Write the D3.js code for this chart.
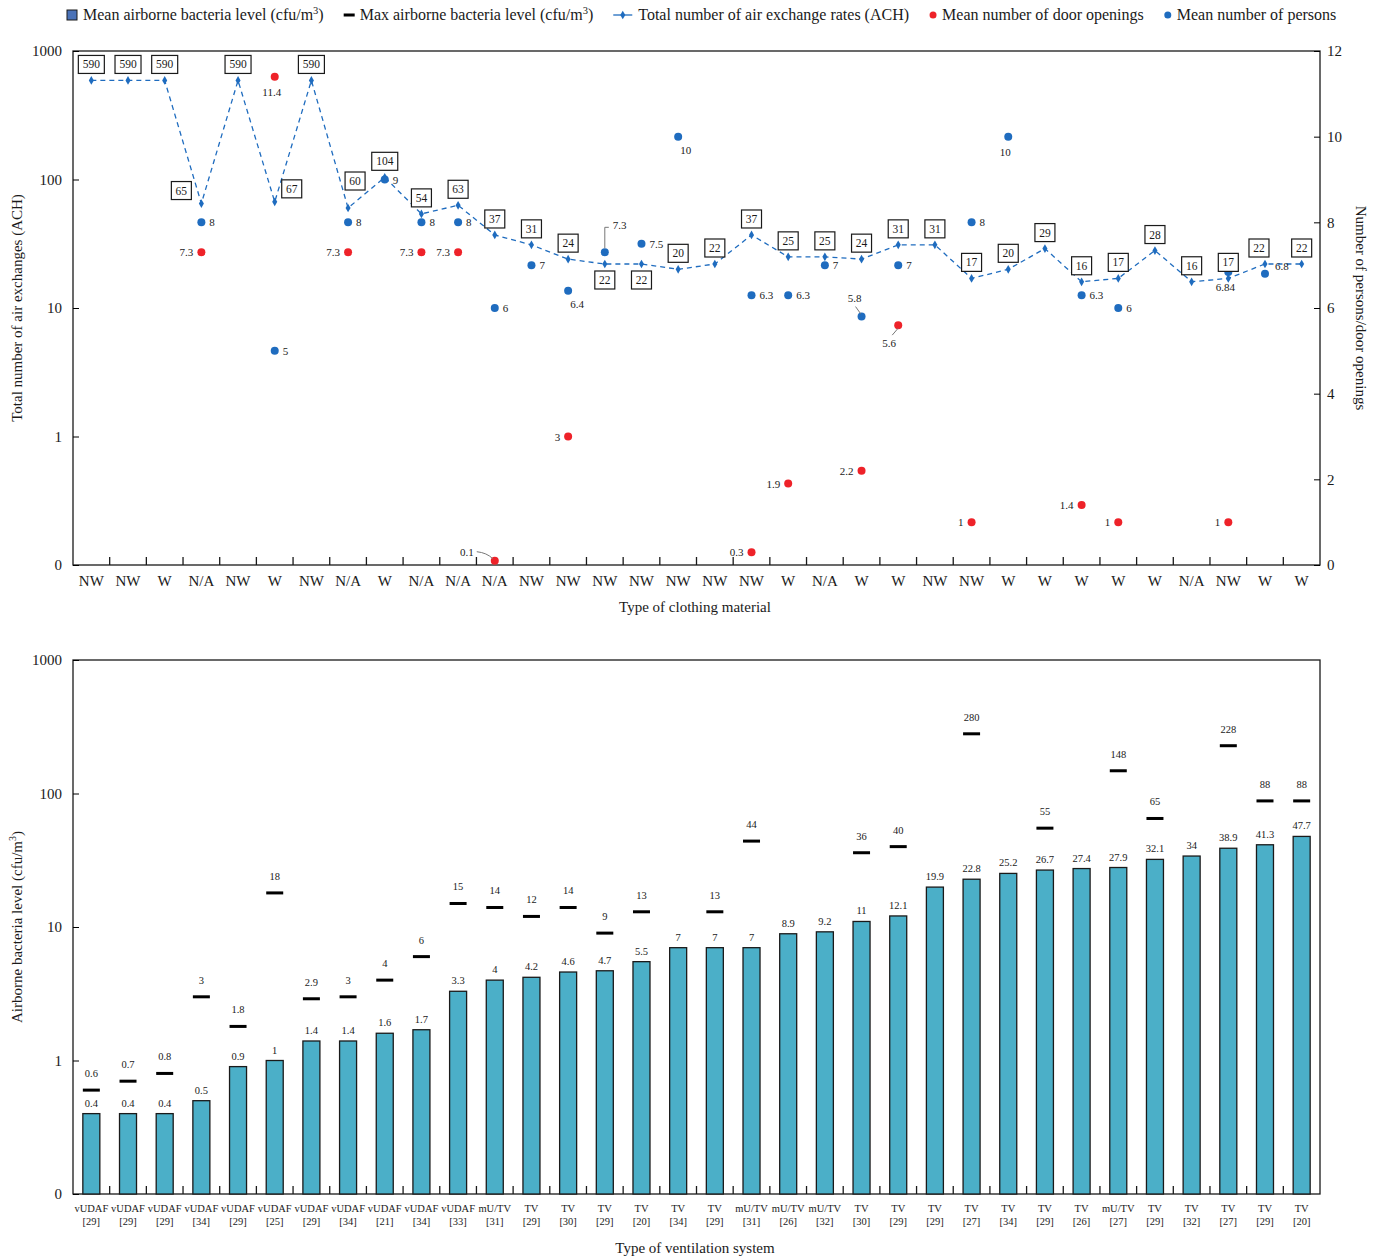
<!DOCTYPE html>
<html>
<head>
<meta charset="utf-8">
<script src="https://cdn.jsdelivr.net/npm/d3@7"></script>
<style>
body { margin: 0; background: #fff; }
svg text { font-family: "Liberation Serif", "Times New Roman", serif; fill: #1a1a1a; }
</style>
</head>
<body>
<div class="canvas"></div>
<script>
/* ----------- DATA ----------- */
// top panel: one entry per study
const clothing = ['NW','NW','W','N/A','NW','W','NW','N/A','W','N/A','N/A','N/A','NW','NW','NW','NW','NW','NW',
    'NW','W','N/A','W','W','NW','NW','W','W','W','W','W','N/A','NW','W','W'];
const ach = [590,590,590,65,590,67,590,60,104,54,63,37,31,24,22,22,20,22,37,25,25,24,31,31,17,20,29,16,17,28,16,17,22,22];
const persons = [null,null,null,8,null,5,null,8,9,8,8,6,7,6.4,7.3,7.5,10,null,6.3,6.3,7,5.8,7,null,8,10,null,6.3,6,null,null,6.84,6.8,null];
const doors = [null,null,null,7.3,null,11.4,null,7.3,null,7.3,7.3,0.1,null,3,null,null,null,null,0.3,1.9,null,2.2,5.6,null,1,null,null,1.4,1,null,null,1,null,null];

// bottom panel
const ventType = ['vUDAF','vUDAF','vUDAF','vUDAF','vUDAF','vUDAF','vUDAF','vUDAF','vUDAF','vUDAF','vUDAF','mU/TV',
    'TV','TV','TV','TV','TV','TV','mU/TV','mU/TV','mU/TV','TV','TV','TV','TV','TV','TV','TV','mU/TV','TV','TV','TV','TV','TV'];
const ventRef = [29,29,29,34,29,25,29,34,21,34,33,31,29,30,29,20,34,29,31,26,32,30,29,29,27,34,29,26,27,29,32,27,29,20];
const meanBact = [0.4,0.4,0.4,0.5,0.9,1,1.4,1.4,1.6,1.7,3.3,4,4.2,4.6,4.7,5.5,7,7,7,8.9,9.2,11,12.1,19.9,22.8,25.2,26.7,27.4,27.9,32.1,34,38.9,41.3,47.7];
const maxBact = [0.6,0.7,0.8,3,1.8,18,2.9,3,4,6,15,14,12,14,9,13,null,13,44,null,null,36,40,null,280,null,55,null,148,65,null,228,88,88];

const logTicks = [0.1, 1, 10, 100, 1000];
const logTickLabels = ['0', '1', '10', '100', '1000'];
const rightTicks = [0, 2, 4, 6, 8, 10, 12];

/* ----------- LABEL PLACEMENT (layout only) ----------- */
// shift of the ACH boxes from default position (centred, 16px above the point)
const boxShift = {3: [-20, 3], 5: [17, 3], 7: [7, -11], 14: [0, 32], 15: [0, 32], 32: [-6, 0]};
const personPlace = {13: 'br', 14: 'leaderUp', 16: 'br', 21: 'leaderUL', 25: 'b', 31: 'b', 32: 'ur'};
const doorPlace = {5: 'b', 11: 'leaderL', 22: 'leaderDL'};

/* ----------- CONTAINER ----------- */
const W = 1383, H = 1258;
const svg = d3.select('.canvas').append('svg')
    .attr('width', W).attr('height', H);

const left = 73, right = 1320;
const blue = '#1f6cbf', red = '#ee2229', barFill = '#4bafc8';

const x = d3.scaleBand().domain(d3.range(clothing.length)).range([left, right]).padding(0);
const cx = i => x(i) + x.bandwidth() / 2;

/* ----------- TOP PANEL ----------- */
const topY = 51, topB = 565;
const yAch = d3.scaleLog().domain([0.1, 1000]).range([topB, topY]);
const yNum = d3.scaleLinear().domain([0, 12]).range([topB, topY]);

const topPanel = svg.append('g');

// frame
topPanel.append('rect').attr('x', left).attr('y', topY).attr('width', right - left).attr('height', topB - topY)
    .attr('fill', 'none').attr('stroke', '#1a1a1a').attr('stroke-width', 1.3);

// left axis
const leftAxisTop = topPanel.append('g').attr('transform', `translate(${left},0)`)
    .call(d3.axisRight(yAch).tickValues(logTicks).tickFormat((d, i) => logTickLabels[i]).tickSize(6));
leftAxisTop.select('.domain').remove();
leftAxisTop.selectAll('text').attr('x', -11).attr('text-anchor', 'end').style('font-size', '15px');

// right axis
const rightAxis = topPanel.append('g').attr('transform', `translate(${right},0)`)
    .call(d3.axisLeft(yNum).tickValues(rightTicks).tickSize(6));
rightAxis.select('.domain').remove();
rightAxis.selectAll('text').attr('x', 7).attr('text-anchor', 'start').style('font-size', '15px');

// bottom ticks between categories
topPanel.append('g').selectAll('line').data(d3.range(1, clothing.length)).join('line')
    .attr('x1', i => x(i)).attr('x2', i => x(i))
    .attr('y1', topB).attr('y2', topB - 8)
    .attr('stroke', '#1a1a1a').attr('stroke-width', 1.3);

topPanel.append('g').selectAll('text').data(clothing).join('text')
    .attr('x', (d, i) => cx(i)).attr('y', topB + 21)
    .attr('text-anchor', 'middle').style('font-size', '15px').text(d => d);

topPanel.append('text').attr('x', 695).attr('y', 612).attr('text-anchor', 'middle')
    .style('font-size', '15px').text('Type of clothing material');
topPanel.append('text').attr('transform', `translate(22,${(topY + topB) / 2}) rotate(-90)`)
    .attr('text-anchor', 'middle').style('font-size', '15px').text('Total number of air exchanges (ACH)');
topPanel.append('text').attr('transform', `translate(1356,${(topY + topB) / 2}) rotate(90)`)
    .attr('text-anchor', 'middle').style('font-size', '15px').text('Number of persons/door openings');

// ACH dashed line
const line = d3.line().x((d, i) => cx(i)).y(d => yAch(d));
topPanel.append('path').datum(ach).attr('d', line)
    .attr('fill', 'none').attr('stroke', blue).attr('stroke-width', 1.3).attr('stroke-dasharray', '5,4');
topPanel.append('g').selectAll('path').data(ach).join('path')
    .attr('d', d3.symbol(d3.symbolDiamond, 22))
    .attr('transform', (d, i) => `translate(${cx(i)},${yAch(d)})`)
    .attr('fill', blue);

// dots
const dotLayer = topPanel.append('g');
const labelLayer = topPanel.append('g');

function pointLabel(px, py, text, mode) {
    const t = labelLayer.append('text').style('font-size', '11px').text(text);
    const leader = (pts) => labelLayer.append('path').attr('d', d3.line()(pts))
        .attr('fill', 'none').attr('stroke', '#777').attr('stroke-width', 1);
    if (mode === 'r') t.attr('x', px + 8).attr('y', py + 4);
    else if (mode === 'l') t.attr('x', px - 8).attr('y', py + 4).attr('text-anchor', 'end');
    else if (mode === 'b') t.attr('x', px - 3).attr('y', py + 19).attr('text-anchor', 'middle');
    else if (mode === 'br') t.attr('x', px + 2).attr('y', py + 17);
    else if (mode === 'ur') t.attr('x', px + 10).attr('y', py - 4);
    else if (mode === 'leaderUp') {
        leader([[px, py - 4], [px, py - 25], [px + 4, py - 25]]);
        t.attr('x', px + 8).attr('y', py - 23);
    } else if (mode === 'leaderUL') {
        leader([[px - 1, py - 3], [px - 6, py - 10]]);
        t.attr('x', px - 7).attr('y', py - 15).attr('text-anchor', 'middle');
    } else if (mode === 'leaderDL') {
        leader([[px, py + 3], [px - 6, py + 10]]);
        t.attr('x', px - 9).attr('y', py + 22).attr('text-anchor', 'middle');
    } else if (mode === 'leaderL') {
        labelLayer.append('path').attr('d', `M${px - 18},${py - 9} Q${px - 8},${py - 8} ${px - 2},${py - 2}`)
            .attr('fill', 'none').attr('stroke', '#777').attr('stroke-width', 1);
        t.attr('x', px - 21).attr('y', py - 5).attr('text-anchor', 'end');
    }
}

persons.forEach((v, i) => {
    if (v === null) return;
    dotLayer.append('circle').attr('cx', cx(i)).attr('cy', yNum(v)).attr('r', 4).attr('fill', blue);
    pointLabel(cx(i), yNum(v), v, personPlace[i] || 'r');
});
doors.forEach((v, i) => {
    if (v === null) return;
    dotLayer.append('circle').attr('cx', cx(i)).attr('cy', yNum(v)).attr('r', 4).attr('fill', red);
    pointLabel(cx(i), yNum(v), v, doorPlace[i] || 'l');
});

// ACH boxed labels
const boxes = topPanel.append('g').selectAll('g').data(ach).join('g')
    .attr('transform', (d, i) => {
        const s = boxShift[i] || [0, 0];
        return `translate(${cx(i) + s[0]},${yAch(d) - 16 + s[1]})`;
    });
boxes.append('rect')
    .attr('x', d => -(String(d).length * 6 + 8) / 2).attr('y', -9)
    .attr('width', d => String(d).length * 6 + 8).attr('height', 18)
    .attr('fill', '#fff').attr('stroke', '#1a1a1a').attr('stroke-width', 1.2);
boxes.append('text').attr('text-anchor', 'middle').attr('y', 4)
    .style('font-size', '11.5px').text(d => d);

/* ----------- BOTTOM PANEL ----------- */
const botY = 660, botB = 1194;
const yB = d3.scaleLog().domain([0.1, 1000]).range([botB, botY]);
const botPanel = svg.append('g');

botPanel.append('rect').attr('x', left).attr('y', botY).attr('width', right - left).attr('height', botB - botY)
    .attr('fill', 'none').attr('stroke', '#1a1a1a').attr('stroke-width', 1.3);

const leftAxisBot = botPanel.append('g').attr('transform', `translate(${left},0)`)
    .call(d3.axisRight(yB).tickValues(logTicks).tickFormat((d, i) => logTickLabels[i]).tickSize(6));
leftAxisBot.select('.domain').remove();
leftAxisBot.selectAll('text').attr('x', -11).attr('text-anchor', 'end').style('font-size', '15px');

botPanel.append('g').selectAll('line').data(d3.range(1, ventType.length)).join('line')
    .attr('x1', i => x(i)).attr('x2', i => x(i))
    .attr('y1', botB).attr('y2', botB - 8)
    .attr('stroke', '#1a1a1a').attr('stroke-width', 1.3);

const barW = 17;
botPanel.append('g').selectAll('rect').data(meanBact).join('rect')
    .attr('x', (d, i) => cx(i) - barW / 2).attr('width', barW)
    .attr('y', d => yB(d)).attr('height', d => botB - yB(d))
    .attr('fill', barFill).attr('stroke', '#1a1a1a').attr('stroke-width', 1.3);
botPanel.append('g').selectAll('text').data(meanBact).join('text')
    .attr('x', (d, i) => cx(i)).attr('y', d => yB(d) - 7)
    .attr('text-anchor', 'middle').style('font-size', '10.5px').text(d => d);

const maxPts = maxBact.map((v, i) => ({v, i})).filter(d => d.v !== null);
botPanel.append('g').selectAll('rect').data(maxPts).join('rect')
    .attr('x', d => cx(d.i) - 8.5).attr('width', 17)
    .attr('y', d => yB(d.v) - 1.5).attr('height', 3).attr('fill', '#000');
botPanel.append('g').selectAll('text').data(maxPts).join('text')
    .attr('x', d => cx(d.i)).attr('y', d => yB(d.v) - 13)
    .attr('text-anchor', 'middle').style('font-size', '10.5px').text(d => d.v);

const xl = botPanel.append('g').selectAll('text').data(ventType).join('text')
    .attr('text-anchor', 'middle').style('font-size', '10.5px');
xl.append('tspan').attr('x', (d, i) => cx(i)).attr('y', botB + 18).text(d => d);
xl.append('tspan').attr('x', (d, i) => cx(i)).attr('y', botB + 31).text((d, i) => `[${ventRef[i]}]`);

botPanel.append('text').attr('x', 695).attr('y', 1253).attr('text-anchor', 'middle')
    .style('font-size', '15px').text('Type of ventilation system');
const bt = botPanel.append('text').attr('transform', `translate(22,${(botY + botB) / 2}) rotate(-90)`)
    .attr('text-anchor', 'middle').style('font-size', '15px');
bt.append('tspan').text('Airborne bacteria level (cfu/m');
bt.append('tspan').attr('dy', -6).style('font-size', '10px').text('3');
bt.append('tspan').attr('dy', 6).text(')');

/* ----------- LEGEND ----------- */
const legend = svg.append('g').attr('transform', 'translate(0,20)');
const legendItems = [
    {type: 'square', parts: ['Mean airborne bacteria level (cfu/m', '3', ')']},
    {type: 'dash', parts: ['Max airborne bacteria level (cfu/m', '3', ')']},
    {type: 'line', parts: ['Total number of air exchange rates (ACH)']},
    {type: 'red', parts: ['Mean number of door openings']},
    {type: 'blue', parts: ['Mean number of persons']}
];
let lx = 67;
legendItems.forEach(item => {
    const g = legend.append('g').attr('transform', `translate(${lx},0)`);
    let tx;
    if (item.type === 'square') {
        g.append('rect').attr('x', 0).attr('y', -10).attr('width', 10).attr('height', 10)
            .attr('fill', '#4a72b8').attr('stroke', '#1a1a1a').attr('stroke-width', 1);
        tx = 16;
    } else if (item.type === 'dash') {
        g.append('rect').attr('x', 0).attr('y', -6.5).attr('width', 11).attr('height', 3).attr('fill', '#000');
        tx = 16;
    } else if (item.type === 'line') {
        g.append('line').attr('x1', 0).attr('x2', 19).attr('y1', -5).attr('y2', -5)
            .attr('stroke', blue).attr('stroke-width', 1.3);
        g.append('path').attr('d', d3.symbol(d3.symbolDiamond, 22)).attr('transform', 'translate(9.5,-5)').attr('fill', blue);
        tx = 25;
    } else {
        g.append('circle').attr('cx', 4).attr('cy', -5).attr('r', 3.5).attr('fill', item.type === 'red' ? red : blue);
        tx = 13;
    }
    const t = g.append('text').attr('x', tx).style('font-size', '16px');
    t.append('tspan').text(item.parts[0]);
    if (item.parts.length > 1) {
        t.append('tspan').attr('dy', -6).style('font-size', '10.5px').text(item.parts[1]);
        t.append('tspan').attr('dy', 6).text(item.parts[2]);
    }
    lx += tx + t.node().getComputedTextLength() + 20;
});
</script>
</body>
</html>
